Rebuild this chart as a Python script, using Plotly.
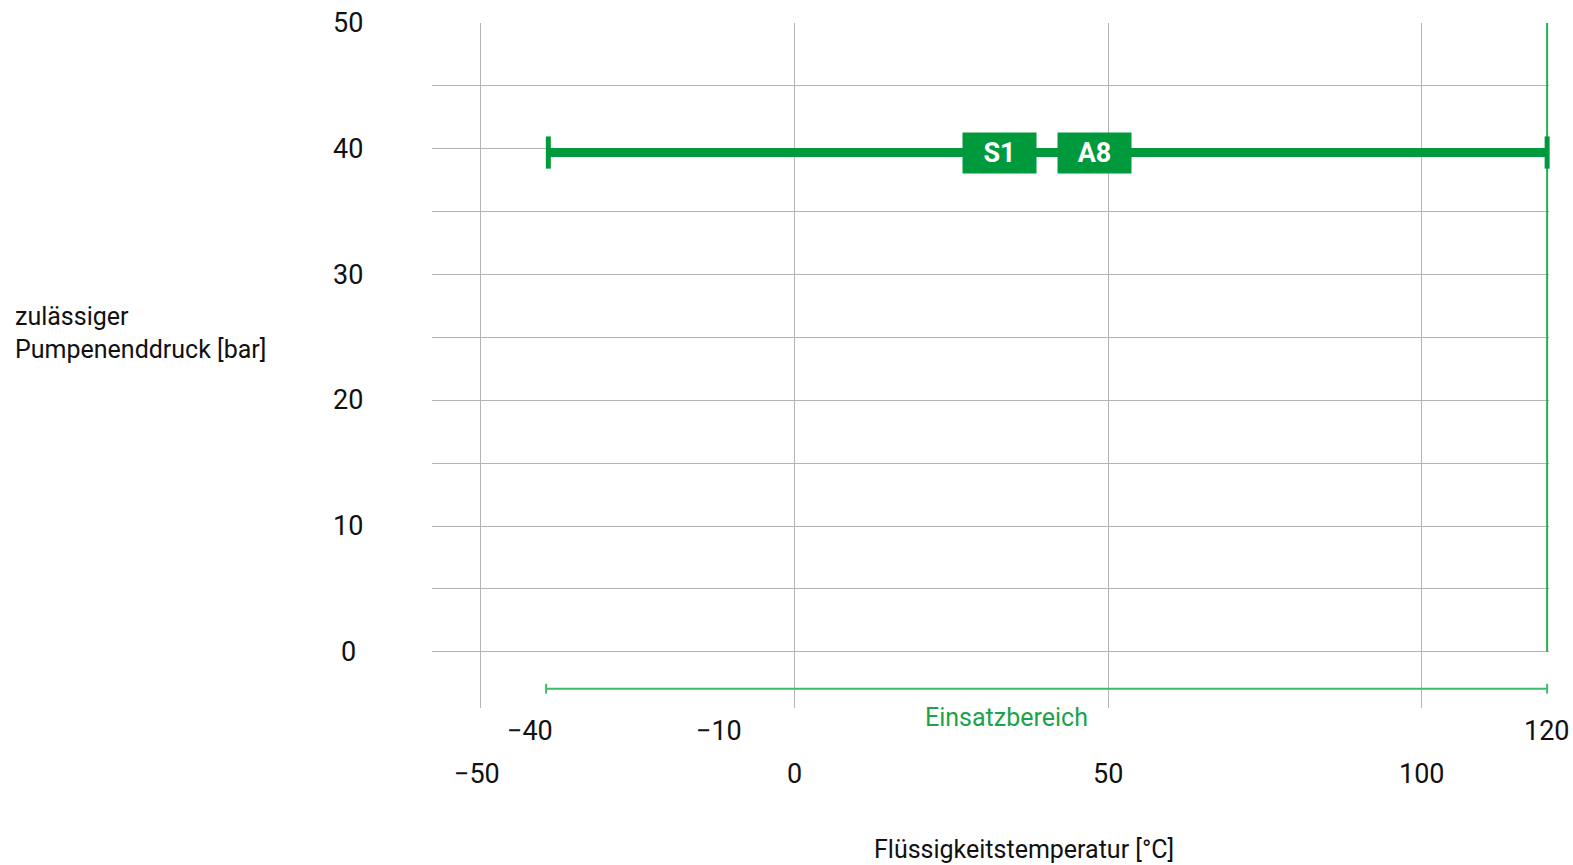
import plotly.graph_objects as go

# ---- data ----
x_tick_vals = [-50, 0, 50, 100]
x_tick_text = ["\u221250", "0", "50", "100"]
y_tick_vals = [0, 10, 20, 30, 40, 50]
y_tick_text = ["0", "10", "20", "30", "40", "50"]
y_grid_vals = [0, 5, 10, 15, 20, 25, 30, 35, 40, 45, 50]

range_x = [-39.6, 120.0]          # permissible temperature range
pressure = [39.7, 39.7]           # permissible pump discharge pressure
band_y = [-2.94, -2.94]           # "Einsatzbereich" range line
band_label_x = 33.8
range_labels = ["\u221240", "\u221210", "120"]
range_label_x = [-42.2, -12.0, 120.0]
materials = ["S1", "A8"]
material_x = [32.7, 47.9]

GREEN = "#009a3d"
LIGHT = "#3dbb6a"
FONT = "Roboto, sans-serif"
NUM = 27
TXT = 25

fig = go.Figure()

# right boundary line (green)
fig.add_trace(go.Scatter(x=[range_x[1], range_x[1]], y=[0, 50], mode="lines",
                         line=dict(color="#22b050", width=2), cliponaxis=False,
                         hoverinfo="skip", showlegend=False))

# Einsatzbereich line with small end ticks
fig.add_trace(go.Scatter(x=range_x, y=band_y, mode="lines+markers",
                         line=dict(color=LIGHT, width=2),
                         marker=dict(symbol="line-ns-open", size=7, color=LIGHT,
                                     line=dict(color=LIGHT, width=2)),
                         cliponaxis=False, hoverinfo="skip", showlegend=False))

# thick pressure line with end caps
fig.add_trace(go.Scatter(x=range_x, y=pressure, mode="lines",
                         line=dict(color=GREEN, width=9),
                         cliponaxis=False, hoverinfo="skip", showlegend=False))
fig.add_trace(go.Scatter(x=[range_x[0] + 0.35, range_x[1]], y=pressure, mode="markers",
                         marker=dict(symbol="line-ns-open", size=23, color=GREEN,
                                     line=dict(color=GREEN, width=5)),
                         cliponaxis=False, hoverinfo="skip", showlegend=False))

annotations = []
# material boxes
for lab, mx in zip(materials, material_x):
    annotations.append(dict(x=mx, y=pressure[0], xref="x", yref="y", text="<b>" + lab + "</b>",
                            showarrow=False, bgcolor=GREEN, width=73, height=40, borderpad=0,
                            font=dict(family=FONT, size=27, color="white"),
                            xanchor="center", yanchor="middle"))

# y tick labels
for v, t in zip(y_tick_vals, y_tick_text):
    annotations.append(dict(x=-0.0752, y=v, xref="paper", yref="y", text=t, showarrow=False,
                            font=dict(family=FONT, size=NUM, color="#111"),
                            xanchor="center", yanchor="middle"))

# x tick labels
for v, t in zip(x_tick_vals, x_tick_text):
    annotations.append(dict(x=v - (0.7 if v < 0 else 0), y=-0.097, xref="x", yref="paper",
                            text=t, showarrow=False,
                            font=dict(family=FONT, size=NUM, color="#111"),
                            xanchor="center", yanchor="middle"))

# range labels
for v, t in zip(range_label_x, range_labels):
    annotations.append(dict(x=v, y=-0.0331, xref="x", yref="paper", text=t, showarrow=False,
                            font=dict(family=FONT, size=NUM, color="#111"),
                            xanchor="center", yanchor="middle"))

annotations.append(dict(x=band_label_x, y=band_y[0], xref="x", yref="y",
                        text="Einsatzbereich", showarrow=False, yshift=-29,
                        font=dict(family=FONT, size=TXT, color="#1aa34a"),
                        xanchor="center", yanchor="middle"))

annotations.append(dict(x=0.530, y=-0.2062, xref="paper", yref="paper",
                        text="Flüssigkeitstemperatur [°C]", showarrow=False,
                        font=dict(family=FONT, size=TXT, color="#111"),
                        xanchor="center", yanchor="middle"))

annotations.append(dict(x=-0.3754, y=0.5474, xref="paper", yref="paper",
                        text="zulässiger<br>Pumpenenddruck [bar]", showarrow=False, align="left",
                        font=dict(family=FONT, size=TXT, color="#111"),
                        xanchor="left", yanchor="middle"))

fig.update_layout(
    width=1573, height=865,
    margin=dict(l=432, r=24, t=23, b=157),
    plot_bgcolor="white", paper_bgcolor="white",
    font=dict(family=FONT, size=TXT, color="#111"),
    annotations=annotations,
    hovermode=False,
    xaxis=dict(range=[-57.8, 120.3], tickvals=x_tick_vals, showticklabels=False,
               showgrid=True, gridcolor="#b4b4b4", gridwidth=1.3, zeroline=False,
               showline=False, ticks=""),
    yaxis=dict(range=[-4.47, 50], tickvals=y_grid_vals, showticklabels=False,
               showgrid=True, gridcolor="#b4b4b4", gridwidth=1.3, zeroline=False,
               showline=False, ticks=""),
)

fig.write_html("out.html", config={"displayModeBar": False},
               post_script="document.body.style.margin='0px';document.body.style.overflow='hidden';")
